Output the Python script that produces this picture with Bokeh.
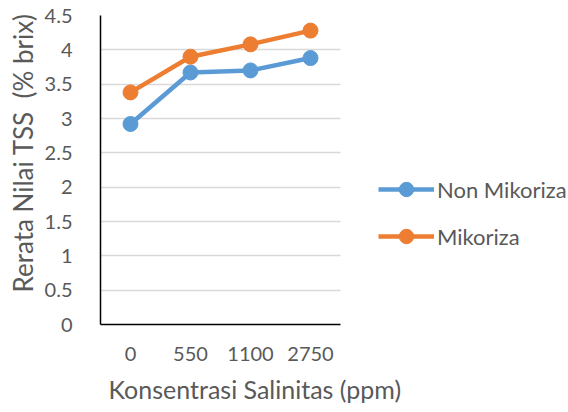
from bokeh.plotting import figure
from bokeh.models import Legend, LegendItem, Range1d, FixedTicker, BoxAnnotation, Title
from bokeh.embed import file_html
from bokeh.resources import INLINE

# Salinity levels (ppm) and mean TSS (% brix)
categories = ["0", "550", "1100", "2750"]
non_mikoriza = [2.92, 3.67, 3.70, 3.88]
mikoriza = [3.38, 3.90, 4.08, 4.28]
y_ticks = [0, 0.5, 1, 1.5, 2, 2.5, 3, 3.5, 4, 4.5]

FONT = "Lato"
TEXT = "#595959"
BLUE = "#5B9BD5"
ORANGE = "#ED7D31"

# category slots on a numeric axis; the right part of the frame holds the legend
xs = list(range(len(categories)))
x_lo, x_hi = -0.5, len(categories) - 0.5

p = figure(width=568, height=412, x_range=Range1d(x_lo, 7.3), y_range=Range1d(0, 4.5),
           output_backend="svg", toolbar_location=None,
           min_border_left=100, min_border_right=0,
           min_border_top=15, min_border_bottom=87)
p.outline_line_color = None
p.background_fill_color = "white"

# axes
p.xaxis.ticker = FixedTicker(ticks=xs)
p.xaxis.major_label_overrides = dict(zip(xs, categories))
p.xaxis.bounds = (x_lo, x_hi)
p.yaxis.ticker = FixedTicker(ticks=y_ticks)
p.yaxis.formatter.use_scientific = False
for ax in (p.xaxis[0], p.yaxis[0]):
    ax.axis_line_color = "black"
    ax.axis_line_width = 1.5
    ax.major_tick_line_color = None
    ax.minor_tick_line_color = None
    ax.major_label_text_font = FONT
    ax.major_label_text_font_size = "20px"
    ax.major_label_text_color = TEXT
p.xaxis.major_label_standoff = 16
p.yaxis.major_label_standoff = 22

# axis titles, placed along the plotting area only
p.add_layout(Title(text="Konsentrasi Salinitas (ppm)", align="left", offset=8,
                   standoff=17, text_font=FONT, text_font_size="25px",
                   text_font_style="normal", text_color=TEXT), "below")
p.add_layout(Title(text="Rerata Nilai TSS\u00a0 (% brix)", align="left", offset=32,
                   standoff=6, text_font=FONT, text_font_size="26px",
                   text_font_style="normal", text_color=TEXT), "left")

p.xgrid.grid_line_color = None
p.ygrid.grid_line_color = "#D9D9D9"
p.ygrid.grid_line_width = 1.5
# keep the gridlines within the plotting area, not under the legend
p.add_layout(BoxAnnotation(left=x_hi, fill_color="white", fill_alpha=1,
                           line_alpha=0, level="underlay"))

r1l = p.line(xs, non_mikoriza, line_color=BLUE, line_width=4.5)
r1m = p.scatter(xs, non_mikoriza, size=15, fill_color=BLUE, line_color=BLUE)
r2l = p.line(xs, mikoriza, line_color=ORANGE, line_width=4.5)
r2m = p.scatter(xs, mikoriza, size=15, fill_color=ORANGE, line_color=ORANGE)

legend = Legend(items=[LegendItem(label="Non Mikoriza", renderers=[r1l, r1m]),
                       LegendItem(label="Mikoriza", renderers=[r2l, r2m])],
                location=(278, 70), orientation="vertical",
                glyph_width=56, glyph_height=36, label_height=22,
                spacing=11, padding=0, margin=0, label_standoff=3,
                border_line_color=None, background_fill_alpha=0,
                label_text_font=FONT, label_text_font_size="22px",
                label_text_color=TEXT)
p.add_layout(legend, "center")

open("out.html", "w").write(file_html(p, INLINE))
